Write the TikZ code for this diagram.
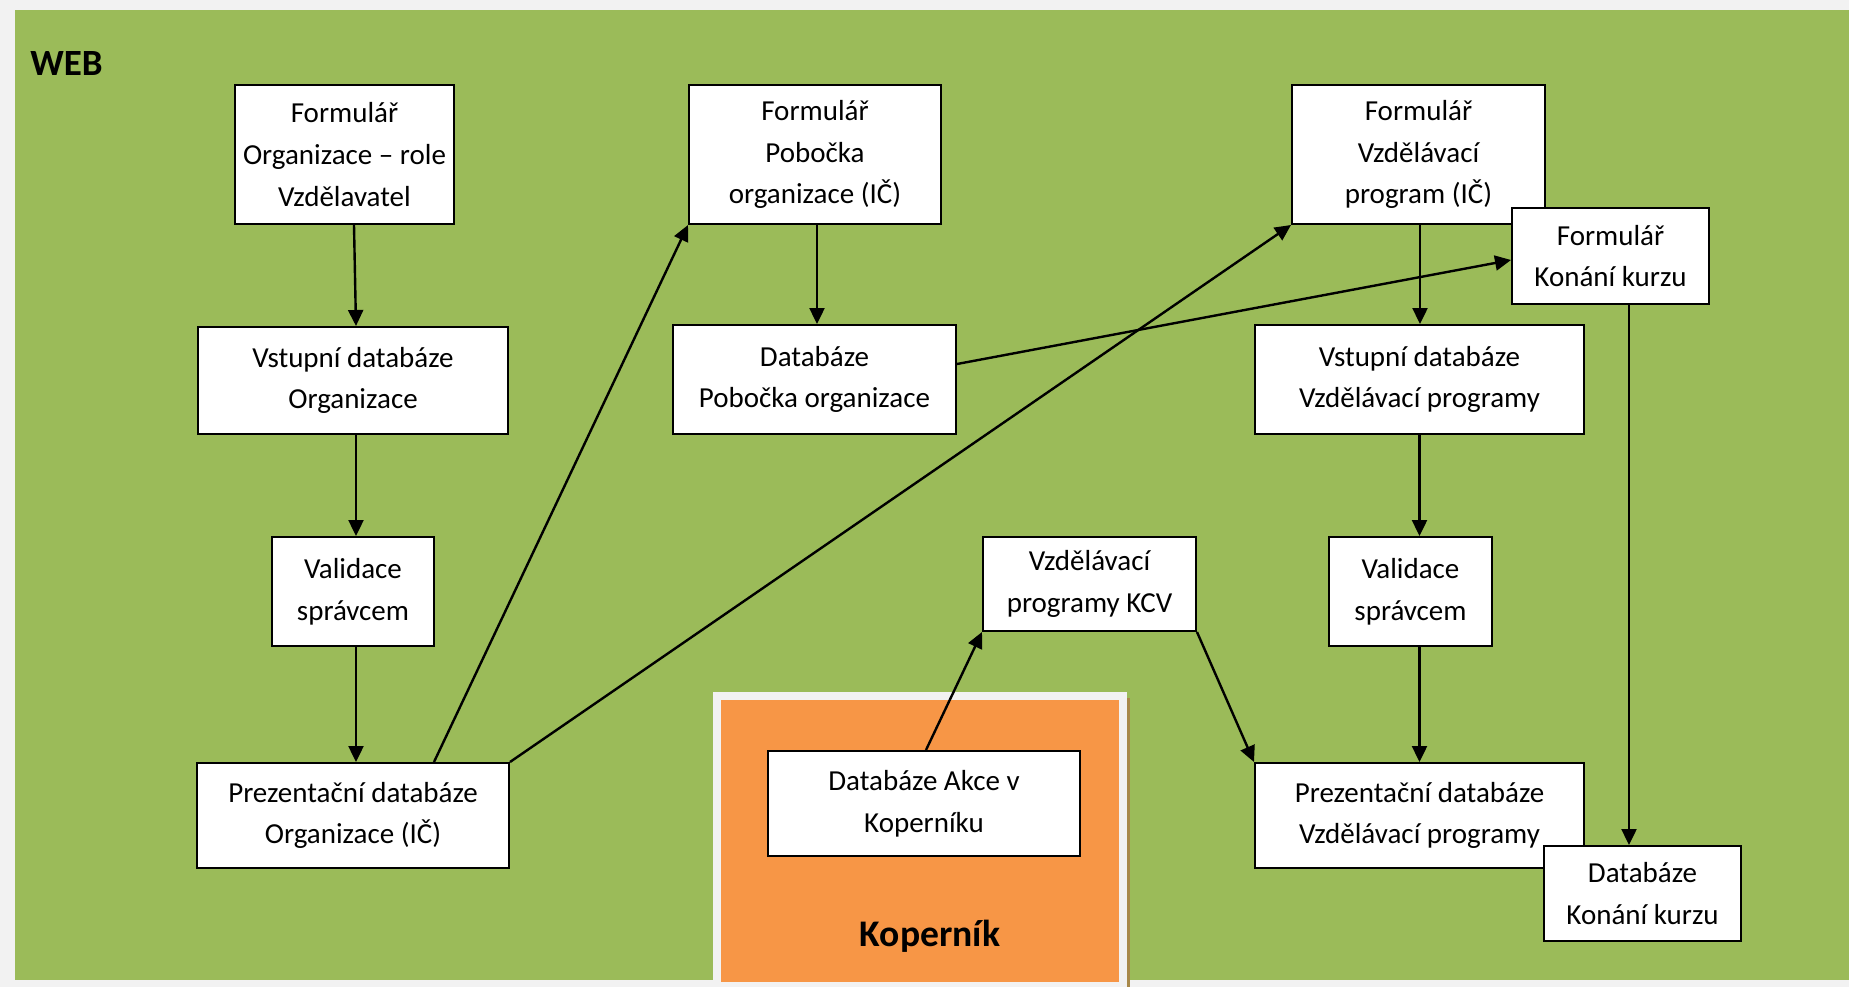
\documentclass[tikz,border=0pt]{standalone}
\usepackage{fontspec}
\setmainfont{Carlito}
\usetikzlibrary{arrows.meta,calc}
\definecolor{bggray}{HTML}{F2F2F2}
\definecolor{webgreen}{HTML}{9BBB59}
\definecolor{kopor}{HTML}{F79646}
\definecolor{shadowc}{HTML}{A8894A}
\begin{document}
\begin{tikzpicture}[x=0.5pt,y=-0.5pt,
  box/.style={draw=black,line width=1pt,fill=white,inner sep=0pt,align=center,
    font=\fontsize{14.5}{20.8}\selectfont},
  arr/.style={-{Triangle[length=8pt,width=7.5pt]},line width=1.2pt},
  title/.style={inner sep=0pt,font=\bfseries\fontsize{18.5}{20}\selectfont}]
% background and areas
\useasboundingbox (0,0) rectangle (1849,987);
\fill[bggray] (0,0) rectangle (1849,987);
\fill[webgreen] (15,10) rectangle (1849,980);
\fill[shadowc] (1127,698) rectangle (1130,987);
\fill[bggray] (713,692) rectangle (1127,987);
\fill[kopor] (721,700) rectangle (1119,982);
\node[title,anchor=base west] (web) at (30,75) {WEB};
\node[title,anchor=base,font=\bfseries\fontsize{18.8}{20}\selectfont] (kop) at (930,946) {Koperník};
% nodes
\node[box,minimum width=109.5pt,minimum height=69.5pt] (n1) at (344.5,154.5) {Formulář\\Organizace – role\\Vzdělavatel};
\node[box,minimum width=155pt,minimum height=53.5pt] (n2) at (353,380.5) {Vstupní databáze\\Organizace};
\node[box,minimum width=81pt,minimum height=54.5pt] (n3) at (353,591.5) {Validace\\správcem};
\node[box,minimum width=156pt,minimum height=52.5pt] (n4) at (353,815.5) {Prezentační databáze\\Organizace (IČ)};
\node[box,minimum width=126pt,minimum height=69.5pt] (n5) at (815,154.5) {Formulář\\Pobočka\\organizace (IČ)};
\node[box,minimum width=141.5pt,minimum height=54.5pt] (n6) at (814.5,379.5) {Databáze\\Pobočka organizace};
\node[box,minimum width=126.5pt,minimum height=69.5pt] (n7) at (1418.5,154.5) {Formulář\\Vzdělávací\\program (IČ)};
\node[box,minimum width=98.5pt,minimum height=48pt] (n8) at (1610.5,256) {Formulář\\Konání kurzu};
\node[box,minimum width=164.5pt,minimum height=54.5pt] (n9) at (1419.5,379.5) {Vstupní databáze\\Vzdělávací programy};
\node[box,minimum width=81.5pt,minimum height=54.5pt] (n10) at (1410.5,591.5) {Validace\\správcem};
\node[box,minimum width=106.5pt,minimum height=47pt] (n11) at (1089.5,584) {Vzdělávací\\programy KCV};
\node[box,minimum width=156pt,minimum height=52.5pt] (n12) at (924,803.5) {Databáze Akce v\\Koperníku};
\node[box,minimum width=164.5pt,minimum height=52.5pt] (n13) at (1419.5,815.5) {Prezentační databáze\\Vzdělávací programy};
\node[box,minimum width=98.5pt,minimum height=47.5pt] (n14) at (1642.5,893.5) {Databáze\\Konání kurzu};
% helper coordinates
\coordinate (c1) at ([xshift=4.75pt]n1.south);
\coordinate (c2t) at ([xshift=1.5pt]n2.north);
\coordinate (c2b) at ([xshift=1.5pt]n2.south);
\coordinate (c3t) at ([xshift=1.5pt]n3.north);
\coordinate (c3b) at ([xshift=1.5pt]n3.south);
\coordinate (c4t) at ([xshift=1.5pt]n4.north);
\coordinate (c4r) at ([xshift=119pt]n4.north west);
\coordinate (c5) at ([xshift=1pt]n5.south);
\coordinate (c6) at ([yshift=7.75pt]n6.east);
\coordinate (c8w) at ([yshift=-2pt]n8.west);
\coordinate (c7) at ([xshift=0.75pt]n7.south);
\coordinate (c8) at ([xshift=9.25pt]n8.south);
\coordinate (c12) at ([xshift=1pt]n12.north);
% connectors
\draw[arr] (c1) -- (c2t);
\draw[arr] (c2b) -- (c3t);
\draw[arr] (c3b) -- (c4t);
\draw[arr] (c4r) -- (n5.south west);
\draw[arr] (n4.north east) -- (n7.south west);
\draw[arr] (c5) -- (c5 |- n6.north);
\draw[arr] (c6) -- (c8w);
\draw[arr] (c7) -- (c7 |- n9.north);
\draw[arr] (n9.south) -- (n9.south |- n10.north);
\draw[arr] (n13.north |- n10.south) -- (n13.north);
\draw[arr] (c8) -- (c8 |- n14.north);
\draw[arr] (c12) -- (n11.south west);
\draw[arr] (n11.south east) -- (n13.north west);
\end{tikzpicture}
\end{document}
